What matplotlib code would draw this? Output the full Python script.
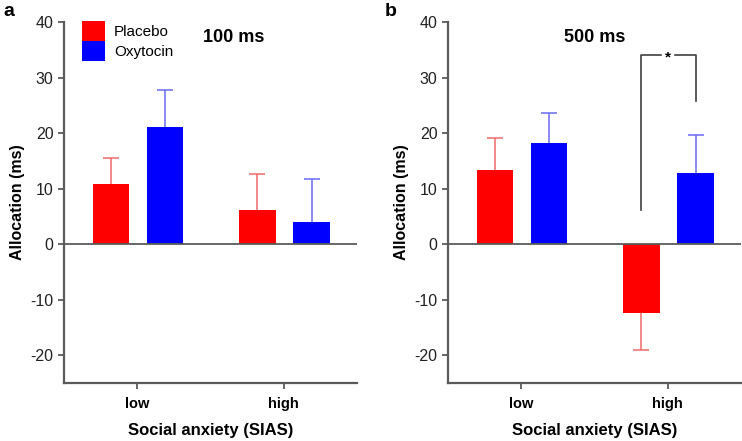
import numpy as np
import matplotlib
matplotlib.use('Agg')
import matplotlib.pyplot as plt
from matplotlib.patches import Patch

plt.rcParams['font.family'] = ['Liberation Sans', 'DejaVu Sans']
plt.rcParams['axes.unicode_minus'] = False

groups = ['low', 'high']
conditions = ['Placebo', 'Oxytocin']
colors = ['#ff0000', '#0000ff']
err_colors = ['#f06a6a', '#6a6af0']

# panel a: 100 ms
means_100 = {'Placebo': [10.8, 6.1], 'Oxytocin': [21.1, 4.0]}
sem_100 = {'Placebo': [4.7, 6.6], 'Oxytocin': [6.6, 7.7]}
# panel b: 500 ms
means_500 = {'Placebo': [13.4, -12.4], 'Oxytocin': [18.3, 12.8]}
sem_500 = {'Placebo': [5.8, 6.6], 'Oxytocin': [5.3, 6.9]}

yticks = [-20, -10, 0, 10, 20, 30, 40]
grey = '#5a5a5a'

fig = plt.figure(figsize=(7.42, 4.41), dpi=100)
ax_a = fig.add_axes([0.0863, 0.1315, 0.395, 0.8185])
ax_b = fig.add_axes([0.6038, 0.1315, 0.395, 0.8185])

x = np.arange(len(groups))
width = 0.25
offsets = [-0.18, 0.19]


def draw(ax, means, sems, title, title_x):
    for i, cond in enumerate(conditions):
        m = np.array(means[cond])
        s = np.array(sems[cond])
        pos = x + offsets[i]
        ax.bar(pos, m, width, color=colors[i], zorder=2)
        # one-sided error bars, away from zero
        tip = m + np.sign(m) * s
        ax.vlines(pos, m, tip, color=err_colors[i], lw=1.1, zorder=1)
        ax.plot(pos, tip, ls='none', marker='_', markersize=11, mew=1.1,
                color=err_colors[i], zorder=1)
    ax.axhline(0, color=grey, lw=1.3, zorder=3)
    ax.set_xlim(-0.5, 1.5)
    ax.set_ylim(-25, 40)
    ax.set_yticks(yticks)
    ax.set_xticks(x)
    ax.set_xticklabels(groups, fontsize=10.5, fontweight='bold')
    ax.tick_params(axis='y', labelsize=11.5, colors=grey, labelcolor='#222222', length=4, width=1.3)
    ax.tick_params(axis='x', colors=grey, labelcolor='black', length=4, width=1.3, pad=6)
    for sp in ['top', 'right']:
        ax.spines[sp].set_visible(False)
    for sp in ['left', 'bottom']:
        ax.spines[sp].set_color(grey)
        ax.spines[sp].set_linewidth(1.6)
    ax.set_xlabel('Social anxiety (SIAS)', fontsize=12, fontweight='bold', labelpad=9)
    ax.set_ylabel('Allocation (ms)', fontsize=11.5, fontweight='bold', labelpad=4)
    ax.text(title_x, 37.3, title, fontsize=13, fontweight='bold', ha='center', va='center')


draw(ax_a, means_100, sem_100, '100 ms', 0.66)
draw(ax_b, means_500, sem_500, '500 ms', 0.5)

handles = [Patch(facecolor=c) for c in colors]
ax_a.legend(handles, conditions, loc='upper left', bbox_to_anchor=(0.04, 1.02), frameon=False,
            fontsize=11, handlelength=1.5, handleheight=1.6, labelspacing=0.05,
            handletextpad=0.6, borderaxespad=0)

# significance bracket, panel b high group
bx0 = 1 + offsets[0]
bx1 = 1 + offsets[1]
ax_b.plot([bx0, bx0, 1 - 0.05], [6.2, 34.1, 34.1], color='#404040', lw=1.2)
ax_b.plot([1 + 0.05, bx1, bx1], [34.1, 34.1, 25.8], color='#404040', lw=1.2)
ax_b.text(1.0, 33.6, '*', fontsize=11, fontweight='bold', ha='center', va='center')

fig.text(0.004, 0.975, 'a', fontsize=14, fontweight='bold', va='center')
fig.text(0.518, 0.975, 'b', fontsize=14, fontweight='bold', va='center')

fig.savefig('out.png', dpi=100)
